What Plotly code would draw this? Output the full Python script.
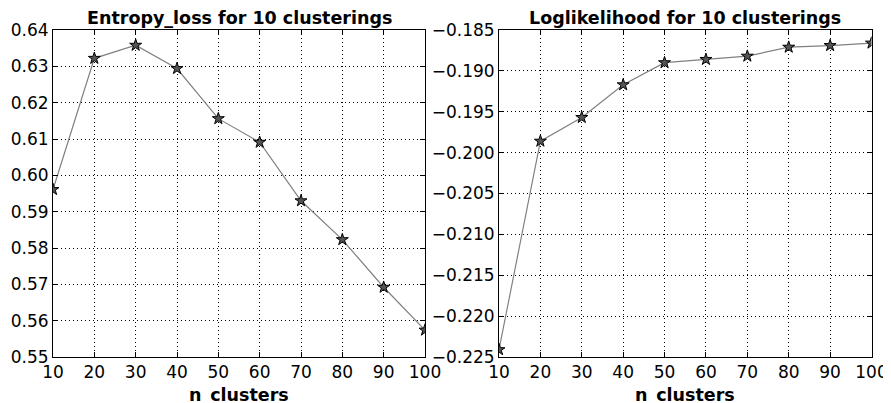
import plotly.graph_objects as go

n_clusters = [10, 20, 30, 40, 50, 60, 70, 80, 90, 100]
entropy_loss = [0.5961, 0.6322, 0.6358, 0.6294, 0.6156, 0.6091, 0.5930, 0.5823, 0.5692, 0.5574]
loglikelihood = [-0.2241, -0.1986, -0.1957, -0.1917, -0.1890, -0.1886, -0.1882, -0.1871, -0.1869, -0.1866]

title_left = "Entropy_loss for 10 clusterings"
title_right = "Loglikelihood for 10 clusterings"
xlabel = "n_clusters"

# page body has an 8px margin; figure is sized/positioned to compensate
OFF = 8
W, H = 891 - OFF, 403 - OFF
FONT = "DejaVu Sans"

fig = go.Figure()

marker = dict(symbol="star", size=9, color="#555555", line=dict(color="black", width=1))
line = dict(color="#808080", width=1.2)

fig.add_trace(go.Scatter(x=n_clusters, y=entropy_loss, mode="lines+markers",
                         line=line, marker=marker, xaxis="x", yaxis="y", showlegend=False))
fig.add_trace(go.Scatter(x=n_clusters, y=loglikelihood, mode="lines+markers",
                         line=line, marker=marker, xaxis="x2", yaxis="y2", showlegend=False))

# plot areas in screen pixel coords
L1, R1 = 53, 425
L2, R2 = 499, 871.5
T, B = 30, 357

def px(x):
    return (x - OFF) / W

def py(y):
    return 1 - (y - OFF) / H

common_axis = dict(
    showline=True, linecolor="black", linewidth=1, mirror="ticks",
    ticks="inside", ticklen=5, tickwidth=1, tickcolor="black",
    showgrid=True, gridcolor="black", griddash="1px,3px", gridwidth=1,
    zeroline=False, automargin=False,
    tickfont=dict(family=FONT, size=17, color="black"),
)

def label(text, xc, yc, size):
    return dict(text="<b>%s</b>" % text, x=px(xc), y=py(yc), xref="paper", yref="paper",
                showarrow=False, xanchor="center", yanchor="middle",
                font=dict(family=FONT, size=size, color="black"))

fig.update_layout(
    width=W, height=H,
    margin=dict(l=0, r=0, t=0, b=0),
    paper_bgcolor="white", plot_bgcolor="white",
    font=dict(family=FONT, color="black"),
    xaxis=dict(domain=[px(L1), px(R1)], range=[10, 100], tick0=10, dtick=10,
               anchor="y", **common_axis),
    yaxis=dict(domain=[py(B), py(T)], range=[0.55, 0.64], dtick=0.01, tickformat=".2f",
               anchor="x", **common_axis),
    xaxis2=dict(domain=[px(L2), px(R2)], range=[10, 100], tick0=10, dtick=10,
                anchor="y2", **common_axis),
    yaxis2=dict(domain=[py(B), py(T)], range=[-0.225, -0.185], dtick=0.005, tickformat=".3f",
                anchor="x2", **common_axis),
    annotations=[
        label(title_left, (L1 + R1) / 2, 17.5, 17.5),
        label(title_right, (L2 + R2) / 2, 17.5, 17.5),
        label(xlabel, (L1 + R1) / 2, 395, 17.5),
        label(xlabel, (L2 + R2) / 2, 395, 17.5),
    ],
)

fig.write_html("out.html")
